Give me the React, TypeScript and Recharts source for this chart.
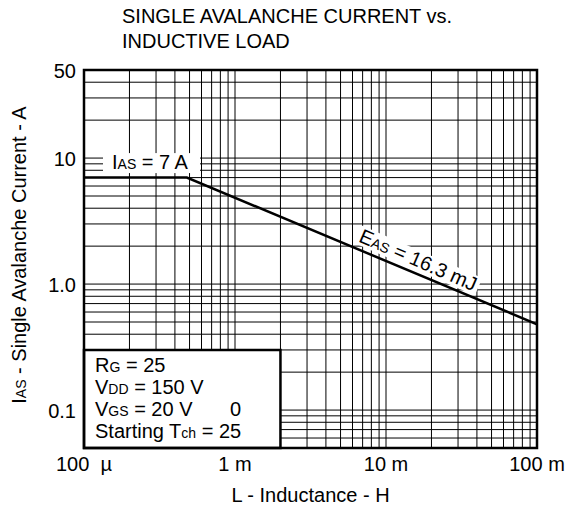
import React from 'react';
import {
  LineChart,
  Line,
  XAxis,
  YAxis,
  CartesianGrid,
  ReferenceArea,
  ReferenceDot,
  Customized,
} from 'recharts';

// ---- data ----
const inductanceH = [0.0001, 0.00048, 0.1];
const avalancheCurrentA = [7, 7, 0.48];

const xTicks = [0.0001, 0.001, 0.01, 0.1];
const xTickLabels = ['100  µ', '1 m', '10 m', '100 m'];
const yTicks = [0.1, 1, 10, 50];
const yTickLabels = ['0.1', '1.0', '10', '50'];

const xGridValues = [
  0.0002, 0.0003, 0.0004, 0.0005, 0.0006, 0.0007, 0.0008, 0.0009,
  0.001, 0.002, 0.003, 0.004, 0.005, 0.006, 0.007, 0.008, 0.009,
  0.01, 0.02, 0.03, 0.04, 0.05, 0.06, 0.07, 0.08, 0.09,
];
const yGridValues = [
  0.06, 0.07, 0.08, 0.09,
  0.1, 0.2, 0.3, 0.4, 0.5, 0.6, 0.7, 0.8, 0.9,
  1, 2, 3, 4, 5, 6, 7, 8, 9,
  10, 20, 30, 40,
];

const titleLines = ['SINGLE AVALANCHE CURRENT vs.', 'INDUCTIVE LOAD'];
const xAxisTitle = 'L - Inductance - H';
const yAxisTitle = { main: 'I', sub: 'AS', rest: ' - Single Avalanche Current - A' };

const iasLabel = { main: 'I', sub: 'AS', rest: ' = 7 A' };
const easLabel = { main: 'E', sub: 'AS', rest: ' = 16.3 mJ' };
const easAnchor = { l: 0.0151, i: 1.25 };
const iasAnchor = { l: 0.0001, i: 7.6 };

const conditionBox = { l1: 0.0001, l2: 0.002, i1: 0.05, i2: 0.3 };
const conditionLines = [
  { main: 'R', sub: 'G', rest: ' = 25', extra: '' },
  { main: 'V', sub: 'DD', rest: ' = 150 V', extra: '' },
  { main: 'V', sub: 'GS', rest: ' = 20 V', extra: '0' },
  { main: 'Starting T', sub: 'ch', rest: ' = 25', extra: '' },
];

const chartData = inductanceH.map((l, k) => ({ l, i: avalancheCurrentA[k] }));

const FONT = '"Liberation Sans", Arial, Helvetica, sans-serif';
const FS = 20;
const SUB = 14;

const XTick = (props: any) => {
  const { x, y, payload } = props;
  const idx = xTicks.indexOf(payload.value);
  return (
    <text
      x={x}
      y={y + 23}
      textAnchor="middle"
      fontFamily={FONT}
      fontSize={FS}
      fill="#000"
      style={{ whiteSpace: 'pre' }}
    >
      {idx >= 0 ? xTickLabels[idx] : ''}
    </text>
  );
};

const YTick = (props: any) => {
  const { x, y, payload } = props;
  const idx = yTicks.indexOf(payload.value);
  return (
    <text x={x - 8} y={y + 8} textAnchor="end" fontFamily={FONT} fontSize={FS} fill="#000">
      {idx >= 0 ? yTickLabels[idx] : ''}
    </text>
  );
};

const Title = () => (
  <g>
    {titleLines.map((t, k) => (
      <text key={k} x={122} y={23 + k * 25} fontFamily={FONT} fontSize={FS} fill="#000">
        {t}
      </text>
    ))}
  </g>
);

const XLabel = (props: any) => {
  const vb = props.viewBox || { x: 84, y: 448, width: 453 };
  return (
    <text
      x={vb.x + vb.width / 2}
      y={vb.y + 54}
      textAnchor="middle"
      fontFamily={FONT}
      fontSize={FS}
      fill="#000"
    >
      {xAxisTitle}
    </text>
  );
};

const YLabel = (props: any) => {
  const vb = props.viewBox || { x: 0, y: 70, width: 84, height: 378 };
  const cx = 26;
  const cy = vb.y + vb.height / 2 - 4;
  return (
    <text
      x={cx}
      y={cy}
      transform={`rotate(-90 ${cx} ${cy})`}
      textAnchor="middle"
      fontFamily={FONT}
      fontSize={FS}
      fill="#000"
      style={{ whiteSpace: 'pre' }}
    >
      {yAxisTitle.main}
      <tspan fontSize={SUB}>{yAxisTitle.sub}</tspan>
      {yAxisTitle.rest}
    </text>
  );
};

const IasShape = (props: any) => {
  const { cx, cy } = props;
  return (
    <g>
      <rect x={cx + 19} y={cy - 20} width={97} height={20} fill="#fff" />
      <text
        x={cx + 28}
        y={cy - 4}
        fontFamily={FONT}
        fontSize={FS}
        fill="#000"
        style={{ whiteSpace: 'pre' }}
      >
        {iasLabel.main}
        <tspan fontSize={SUB}>{iasLabel.sub}</tspan>
        {iasLabel.rest}
      </text>
    </g>
  );
};

const EasShape = (props: any) => {
  const { cx, cy } = props;
  return (
    <g transform={`translate(${cx} ${cy}) rotate(23.5)`}>
      <rect x={-66} y={-22} width={132} height={19} fill="#fff" />
      <text
        x={0}
        y={-6}
        textAnchor="middle"
        fontFamily={FONT}
        fontSize={FS}
        fill="#000"
        style={{ whiteSpace: 'pre' }}
      >
        {easLabel.main}
        <tspan fontSize={SUB}>{easLabel.sub}</tspan>
        {easLabel.rest}
      </text>
    </g>
  );
};

const ConditionShape = (props: any) => {
  const { cx, cy } = props;
  return (
    <g>
      {conditionLines.map((c, k) => (
        <g key={k}>
          <text
            x={cx + 11}
            y={cy + 22 + k * 22}
            fontFamily={FONT}
            fontSize={FS}
            fill="#000"
            style={{ whiteSpace: 'pre' }}
          >
            {c.main}
            <tspan fontSize={SUB}>{c.sub}</tspan>
            {c.rest}
          </text>
          {c.extra ? (
            <text x={cx + 146} y={cy + 22 + k * 22} fontFamily={FONT} fontSize={FS} fill="#000">
              {c.extra}
            </text>
          ) : null}
        </g>
      ))}
    </g>
  );
};

export default function App() {
  return (
    <div style={{ position: 'absolute', left: 0, top: 0, background: '#fff' }}>
      <LineChart
        width={569}
        height={517}
        data={chartData}
        margin={{ top: 70, right: 32, bottom: 0, left: 0 }}
      >
        <CartesianGrid
          stroke="#000"
          strokeWidth={1}
          horizontalValues={yGridValues}
          verticalValues={xGridValues}
        />
        <XAxis
          dataKey="l"
          type="number"
          scale="log"
          domain={[0.0001, 0.1]}
          allowDataOverflow
          ticks={xTicks}
          interval={0}
          axisLine={false}
          tickLine={false}
          tickSize={0}
          tickMargin={0}
          height={69}
          tick={<XTick />}
          label={{ content: (p: any) => <XLabel {...p} /> }}
        />
        <YAxis
          dataKey="i"
          type="number"
          scale="log"
          domain={[0.05, 50]}
          allowDataOverflow
          ticks={yTicks}
          interval={0}
          axisLine={false}
          tickLine={false}
          tickSize={0}
          tickMargin={0}
          width={84}
          tick={<YTick />}
          label={{ content: (p: any) => <YLabel {...p} /> }}
        />
        <ReferenceArea
          x1={conditionBox.l1}
          x2={conditionBox.l2}
          y1={conditionBox.i1}
          y2={conditionBox.i2}
          fill="#fff"
          fillOpacity={1}
          stroke="#000"
          strokeWidth={2.5}
        />
        <ReferenceDot
          x={conditionBox.l1}
          y={conditionBox.i2}
          r={0}
          shape={(p: any) => <ConditionShape {...p} />}
        />
        <ReferenceDot
          x={iasAnchor.l}
          y={iasAnchor.i}
          r={0}
          shape={(p: any) => <IasShape {...p} />}
        />
        <ReferenceDot
          x={easAnchor.l}
          y={easAnchor.i}
          r={0}
          shape={(p: any) => <EasShape {...p} />}
        />
        <Line
          type="linear"
          dataKey="i"
          stroke="#000"
          strokeWidth={2.5}
          dot={false}
          activeDot={false}
          isAnimationActive={false}
        />
        <ReferenceArea
          x1={0.0001}
          x2={0.1}
          y1={0.05}
          y2={50}
          fill="none"
          stroke="#000"
          strokeWidth={2.5}
        />
        <Customized component={<Title />} />
      </LineChart>
    </div>
  );
}
